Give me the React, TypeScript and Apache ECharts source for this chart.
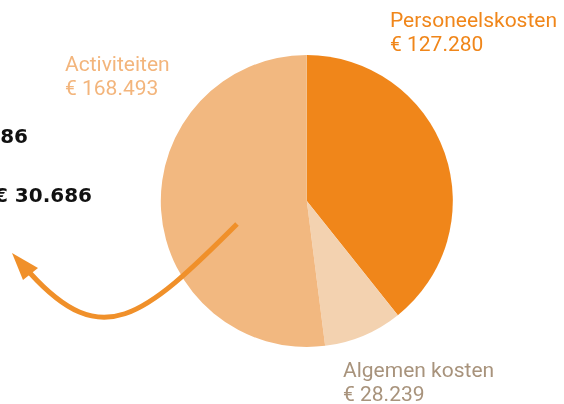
import React, { useEffect, useRef } from "react";
import * as echarts from "echarts";

const categories = ["Personeelskosten", "Algemen kosten", "Activiteiten"];
const values = [127280, 28239, 168493];
const sliceColors = ["#F0861A", "#F3D2B0", "#F2B880"];
const labelColors = ["#F0861A", "#A8937C", "#F3B57C"];
const labelPositions: [number, number][] = [[390, 20], [343, 369.5], [65, 63.5]];
const sideTexts = ["86", "€ 30.686"];
const sidePositions: [number, number][] = [[28, 136], [92, 195]];

const fmt = (v: number) => "€ " + String(v).replace(/\B(?=(\d{3})+(?!\d))/g, ".");

export default function App() {
  const ref = useRef<HTMLDivElement>(null);
  useEffect(() => {
    if (!ref.current) return;
    const chart = echarts.init(ref.current, undefined, { renderer: "svg" });
    const labelFont = { fontFamily: "Roboto", fontSize: 21 };
    const graphics: any[] = [];
    categories.forEach((c, i) => {
      const [x, y] = labelPositions[i];
      graphics.push({
        type: "text", x, y, z: 10,
        style: { text: c, fill: labelColors[i], verticalAlign: "middle", ...labelFont },
      });
      graphics.push({
        type: "text", x, y: y + 24, z: 10,
        style: { text: fmt(values[i]), fill: labelColors[i], verticalAlign: "middle", ...labelFont },
      });
    });
    sideTexts.forEach((t, i) => {
      const [x, y] = sidePositions[i];
      graphics.push({
        type: "text", x, y, z: 10,
        style: {
          text: t, fill: "#111111", align: "right", verticalAlign: "middle",
          fontFamily: "DejaVu Sans", fontWeight: "bold", fontSize: 20,
        },
      });
    });
    graphics.push({
      type: "bezierCurve", z: 100,
      shape: { x1: 237, y1: 224, cpx1: 142, cpy1: 319, cpx2: 102, cpy2: 352, x2: 30, y2: 273 },
      style: { stroke: "#F0902A", lineWidth: 5, fill: null },
    });
    graphics.push({
      type: "polygon", z: 100,
      shape: { points: [[12, 253], [23, 280], [38, 268]] },
      style: { fill: "#F0902A" },
    });
    chart.setOption({
      animation: false,
      graphic: graphics,
      series: [
        {
          type: "pie",
          center: [306.8, 201],
          radius: [0, 146],
          startAngle: 90,
          clockwise: true,
          label: { show: false },
          labelLine: { show: false },
          emphasis: { disabled: true },
          itemStyle: { borderWidth: 0 },
          data: categories.map((c, i) => ({ name: c, value: values[i], itemStyle: { color: sliceColors[i] } })),
        },
      ],
    });
    return () => chart.dispose();
  }, []);
  return <div ref={ref} style={{ position: "fixed", left: 0, top: 0, width: 564, height: 404 }} />;
}
